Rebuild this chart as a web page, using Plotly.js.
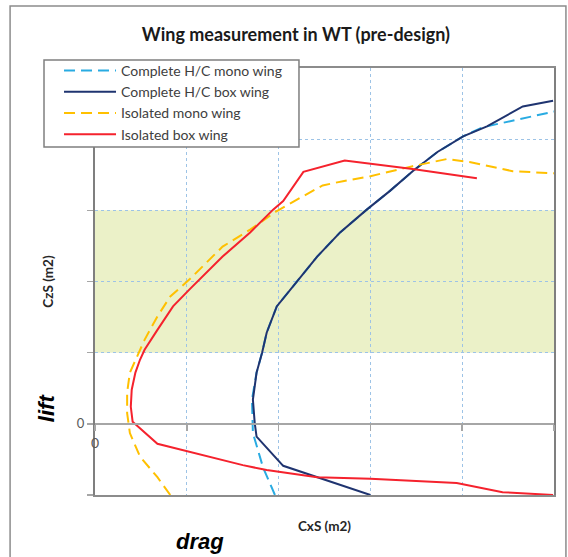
<!DOCTYPE html>
<html>
<head>
<meta charset="utf-8">
<script src="https://cdn.plot.ly/plotly-3.0.1.min.js"></script>
<style>html,body{margin:0;padding:0;background:#fff;}#chart{width:568px;height:557px;}</style>
</head>
<body>
<div id="chart"></div>
<script>
// Series (CxS, CzS), arbitrary grid units
const monoCompleteX = [1.96, 1.83, 1.72, 1.71, 1.76, 1.82, 1.87, 1.98, 2.20, 2.42, 2.67, 2.96, 3.21, 3.46, 3.73, 4.01, 4.23, 4.63, 5.01];
const monoCompleteY = [-1.00, -0.61, -0.13, 0.34, 0.72, 1.00, 1.28, 1.65, 2.00, 2.35, 2.69, 3.01, 3.27, 3.55, 3.82, 4.04, 4.17, 4.28, 4.39];

const boxCompleteX = [3.00, 2.05, 1.76, 1.74, 1.72, 1.76, 1.82, 1.87, 1.98, 2.20, 2.42, 2.67, 2.96, 3.21, 3.46, 3.73, 4.01, 4.27, 4.66, 4.99];
const boxCompleteY = [-1.00, -0.59, -0.18, 0.01, 0.34, 0.72, 1.00, 1.28, 1.65, 2.00, 2.35, 2.69, 3.01, 3.27, 3.55, 3.82, 4.04, 4.18, 4.46, 4.54];

const monoIsoX = [0.82, 0.68, 0.49, 0.38, 0.35, 0.35, 0.38, 0.46, 0.54, 0.68, 0.82, 1.03, 1.39, 1.69, 1.98, 2.20, 2.48, 2.70, 3.00, 3.46, 3.83, 4.08, 4.55, 5.01];
const monoIsoY = [-1.00, -0.75, -0.46, -0.13, 0.15, 0.44, 0.72, 0.94, 1.18, 1.51, 1.79, 2.03, 2.49, 2.73, 2.99, 3.15, 3.35, 3.41, 3.48, 3.62, 3.72, 3.68, 3.55, 3.52];

const boxIsoX = [4.99, 4.44, 3.94, 3.00, 2.42, 1.87, 1.61, 0.68, 0.41, 0.39, 0.40, 0.44, 0.49, 0.54, 0.68, 0.85, 1.03, 1.39, 1.69, 1.94, 2.05, 2.27, 2.72, 3.03, 3.46, 4.16];
const boxIsoY = [-1.00, -0.96, -0.83, -0.77, -0.75, -0.65, -0.58, -0.28, 0.03, 0.24, 0.48, 0.72, 0.90, 1.04, 1.32, 1.65, 1.89, 2.35, 2.69, 3.01, 3.13, 3.54, 3.70, 3.65, 3.58, 3.45];

const seriesNames = ["Complete H/C mono wing", "Complete H/C box wing", "Isolated mono wing", "Isolated box wing"];
const xRange = [0, 5];
const yRange = [-1, 5];
const xTicks = [0, 1, 2, 3, 4, 5];
const xTickText = ["0", "", "", "", "", ""];
const yTicks = [-1, 0, 1, 2, 3, 4, 5];
const yTickText = ["", "0", "", "", "", "", ""];
const bandLow = 1, bandHigh = 3;

const FONT = "Lato, 'Open Sans', sans-serif";

const traces = [
  {x: monoCompleteX, y: monoCompleteY, name: seriesNames[0], mode: "lines", legendgroup: "a",
   line: {color: "#29abe2", width: 2, dash: "11px,6px"}},
  {x: boxCompleteX, y: boxCompleteY, name: seriesNames[1], mode: "lines", legendgroup: "b",
   line: {color: "#1f3470", width: 2}},
  {x: monoIsoX, y: monoIsoY, name: seriesNames[2], mode: "lines", legendgroup: "c",
   line: {color: "#ffc000", width: 2, dash: "11px,6px"}},
  {x: boxIsoX, y: boxIsoY, name: seriesNames[3], mode: "lines", legendgroup: "d",
   line: {color: "#f5222d", width: 2}},
  // carrier for the axis that crosses at CzS = 0
  {x: [xRange[0]], y: [0], xaxis: "x2", mode: "markers", marker: {size: 0.1, opacity: 0},
   showlegend: false, hoverinfo: "skip"}
];

const layout = {
  width: 568, height: 557,
  margin: {l: 95, r: 14, t: 68, b: 62},
  paper_bgcolor: "#ffffff", plot_bgcolor: "#ffffff",
  font: {family: FONT, color: "#404040"},
  title: {text: "<b>Wing measurement in WT (pre-design)</b>", font: {family: FONT, size: 18, color: "#1a1a1a"},
          x: 0.521, xanchor: "center", y: 0.937, yanchor: "middle"},
  showlegend: true,
  legend: {x: -0.0784, y: 1.0304, xanchor: "left", yanchor: "top", bgcolor: "rgba(0,0,0,0)",
           borderwidth: 0, font: {family: FONT, size: 14, color: "#404040"},
           traceorder: "grouped", tracegroupgap: 0, itemwidth: 52},
  xaxis: {range: xRange, tickvals: [1, 2, 3, 4], showticklabels: false, ticks: "",
          showgrid: true, gridcolor: "#9dc3e6", griddash: "dot", gridwidth: 1,
          showline: true, mirror: true, linecolor: "#8c8c8c", linewidth: 2, zeroline: false,
          title: {text: "<b>CxS (m2)</b>", font: {family: FONT, size: 13.5, color: "#262626"}, standoff: 26}},
  xaxis2: {overlaying: "x", anchor: "free", position: 1 / 6, range: xRange, tickvals: xTicks, ticktext: xTickText,
           ticks: "outside", ticklen: 6, tickcolor: "#a6a6a6", tickwidth: 1.5, showgrid: false, zeroline: false,
           showline: true, linecolor: "#a6a6a6", linewidth: 2, side: "bottom",
           tickfont: {family: FONT, size: 14, color: "#595959"}},
  yaxis: {range: yRange, tickvals: yTicks, ticktext: yTickText, ticks: "outside", ticklen: 6,
          tickcolor: "#a6a6a6", tickwidth: 1.5, tickfont: {family: FONT, size: 13, color: "#595959"},
          showgrid: true, gridcolor: "#9dc3e6", griddash: "dot", gridwidth: 1,
          showline: true, mirror: true, linecolor: "#7f7f7f", linewidth: 2, zeroline: false,
          title: {text: "<b>CzS (m2)</b>", font: {family: FONT, size: 13.5, color: "#262626"}, standoff: 20}},
  shapes: [
    {type: "rect", xref: "x", yref: "y", x0: xRange[0], x1: xRange[1], y0: bandLow, y1: bandHigh,
     fillcolor: "#ebf1c8", line: {width: 0}, layer: "below"},
    {type: "rect", xref: "paper", yref: "paper", x0: -0.185, x1: 1.026, y0: -0.2, y1: 1.145,
     line: {color: "#8c8c8c", width: 1.5}, fillcolor: "rgba(0,0,0,0)", layer: "below"},
    // legend frame
    {type: "rect", xref: "paper", yref: "paper", x0: -0.1111, x1: 0.4444, y0: 0.815, y1: 1.0187,
     line: {color: "#7f7f7f", width: 1.5}, fillcolor: "#ffffff", layer: "above"}
  ],
  annotations: [
    {text: "<b><i>lift</i></b>", xref: "paper", yref: "paper", x: -0.104, y: 0.204, textangle: -90,
     showarrow: false, font: {family: "Liberation Sans, Arial, sans-serif", size: 22, color: "#000000"},
     xanchor: "center", yanchor: "middle"},
    {text: "<b><i>drag</i></b>", xref: "paper", yref: "paper", x: 0.229, y: -0.110,
     showarrow: false, font: {family: "Liberation Sans, Arial, sans-serif", size: 22, color: "#000000"},
     xanchor: "center", yanchor: "middle"}
  ]
};

Plotly.newPlot("chart", traces, layout, {displayModeBar: false, staticPlot: true});
</script>
</body>
</html>
